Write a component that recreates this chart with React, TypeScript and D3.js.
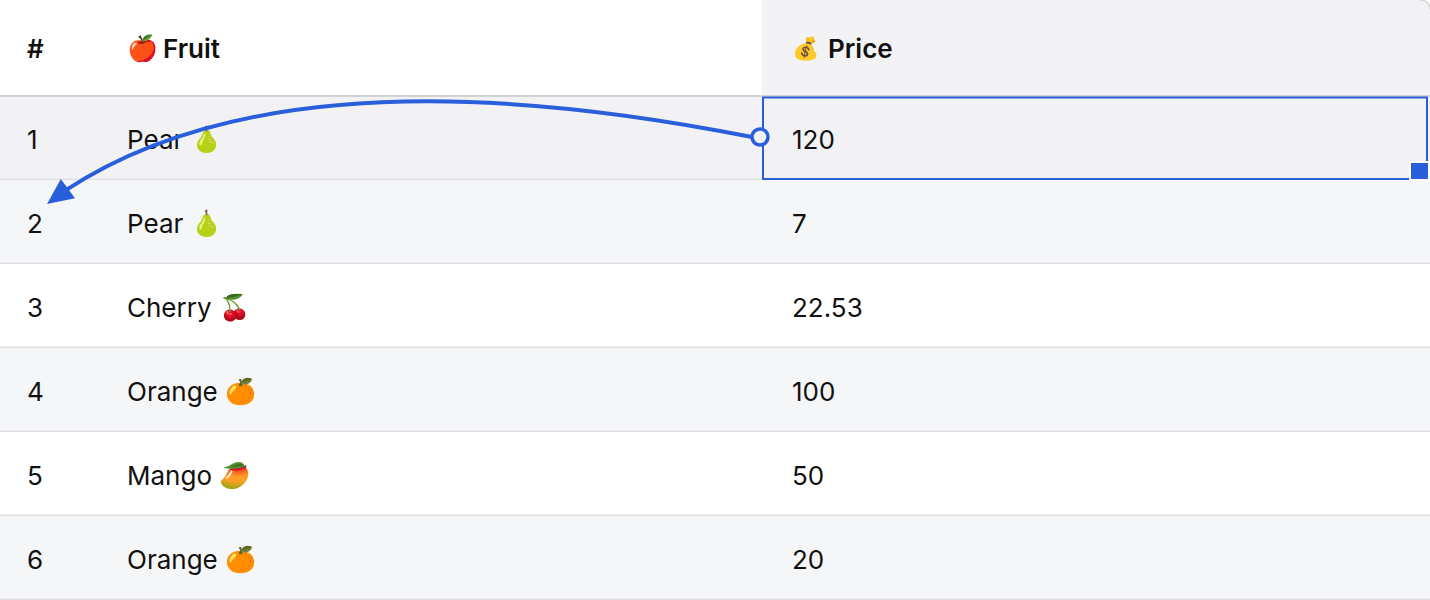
import React from 'react';
import * as d3 from 'd3';

// table content
const rowIds = ['1', '2', '3', '4', '5', '6'];
const fruits = ['Pear', 'Pear', 'Cherry', 'Orange', 'Mango', 'Orange'];
const fruitIcons = ['🍐', '🍐', '🍒', '🍊', '🥭', '🍊'];
const prices = ['120', '7', '22.53', '100', '50', '20'];
const headers = ['#', 'Fruit', 'Price'];
const headerIcons = ['', '🍎', '💰'];
// striped rows (true = grey)
const shaded = [true, true, false, true, false, true];

const W = 1430;
const H = 600;
const HEADER_H = 96;
const FONT = 'Inter, "Noto Sans", sans-serif';
const FS = 26;
const BLUE = '#2a5fdc';

const App: React.FC = () => {
  const x = d3.scaleOrdinal<string, number>().domain(headers).range([0, 100, 762]);
  const colEnd = (i: number) => (i < headers.length - 1 ? x(headers[i + 1]) : W);
  const y = d3.scaleBand<string>().domain(rowIds).range([HEADER_H, H]);
  const bh = y.bandwidth();

  // selected cell: price of row 1, drag arrow to row 2 index
  const selRow = rowIds[0];
  const targetRow = rowIds[1];
  const sx = x('Price');
  const sy = y(selRow)!;
  const start: [number, number] = [sx - 2, sy + bh / 2 - 1];
  const tip: [number, number] = [x('#') + 47, y(targetRow)! + 24];

  // arrow head pointing down-left
  const headLen = 26;
  const halfW = 12;
  const a = Math.atan2(14, -19);
  const dir: [number, number] = [Math.cos(a), Math.sin(a)];
  const base: [number, number] = [tip[0] - dir[0] * headLen, tip[1] - dir[1] * headLen];
  const nrm: [number, number] = [-dir[1], dir[0]];
  const head = [
    tip,
    [base[0] + nrm[0] * halfW, base[1] + nrm[1] * halfW],
    [base[0] - nrm[0] * halfW, base[1] - nrm[1] * halfW],
  ];
  const path = d3.path();
  path.moveTo(start[0] - 8, start[1]);
  path.bezierCurveTo(start[0] - 200, start[1] - 38, 260, 62, base[0] + dir[0] * 4, base[1] + dir[1] * 4);

  return (
    <div style={{ position: 'fixed', left: 0, top: 0 }}>
      <svg width={W} height={H} style={{ display: 'block' }} fontFamily={FONT}>
        <defs>
          <clipPath id="tbl">
            <path d={`M0,0 H${W - 10} Q${W},0 ${W},10 V${H} H0 Z`} />
          </clipPath>
        </defs>
        <g clipPath="url(#tbl)">
          {/* header */}
          <rect x={0} y={0} width={W} height={HEADER_H} fill="#fff" />
          <rect x={x('Price')} y={0} width={W - x('Price')} height={HEADER_H} fill="#f3f3f5" />
          {headers.map((h, i) => (
            <g key={h}>
              {headerIcons[i] && (
                <text x={x(h) + (i === 2 ? 30 : 27)} y={HEADER_H / 2} dominantBaseline="central" fontSize={i === 2 ? 22 : 25}>
                  {headerIcons[i]}
                </text>
              )}
              <text
                x={x(h) + 27 + (headerIcons[i] ? (i === 2 ? 39 : 36) : 0)}
                y={HEADER_H / 2}
                dominantBaseline="central"
                fontSize={FS}
                fontWeight={600}
                fill="#111"
              >
                {h}
              </text>
            </g>
          ))}

          {/* rows */}
          {rowIds.map((id, r) => (
            <g key={id}>
              <rect x={0} y={y(id)} width={W} height={bh} fill={r === 0 ? '#f2f2f4' : shaded[r] ? '#f5f6f8' : '#fff'} />
              <line x1={0} x2={W} y1={y(id)! + bh - 0.5} y2={y(id)! + bh - 0.5} stroke="#e1e1e3" strokeWidth={2} />
              <text x={x('#') + 27} y={y(id)! + bh / 2 + 1} dominantBaseline="central" fontSize={FS} fill="#111">
                {id}
              </text>
              <text x={x('Fruit') + 27} y={y(id)! + bh / 2 + 1} dominantBaseline="central" fontSize={FS} fill="#111">
                {fruits[r]} <tspan fontSize={25}>{fruitIcons[r]}</tspan>
              </text>
              <text x={x('Price') + 30} y={y(id)! + bh / 2 + 1} dominantBaseline="central" fontSize={FS} fill="#111">
                {prices[r]}
              </text>
            </g>
          ))}
          <line x1={0} x2={W} y1={HEADER_H} y2={HEADER_H} stroke="#d3d3d5" strokeWidth={2} />

          {/* selected cell */}
          <rect x={sx + 1} y={sy + 1.5} width={colEnd(2) - sx - 4} height={bh - 2.5} fill="none" stroke={BLUE} strokeWidth={2} />
          <rect x={W - 20} y={sy + bh - 18} width={19} height={18} fill={BLUE} stroke="#fff" strokeWidth={2} />
        </g>
        <path d={`M${W - 10},0 Q${W},0 ${W},10`} fill="none" stroke="#d8d8da" strokeWidth={1.5} />

        {/* drag arrow */}
        <path d={path.toString()} fill="none" stroke={BLUE} strokeWidth={4} />
        <polygon points={head.map(p => p.join(',')).join(' ')} fill={BLUE} />
        <circle cx={start[0]} cy={start[1]} r={8} fill="#f2f2f4" stroke={BLUE} strokeWidth={3.5} />
      </svg>
    </div>
  );
};

export default App;
